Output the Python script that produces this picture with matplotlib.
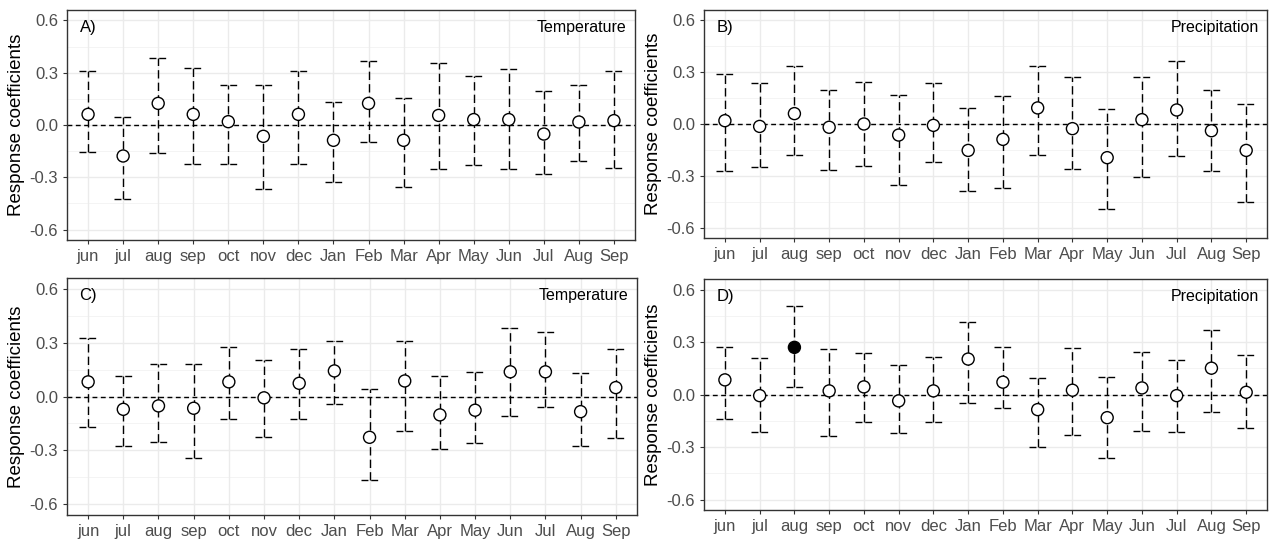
import matplotlib
matplotlib.use("Agg")
import matplotlib.pyplot as plt
import numpy as np

plt.rcParams['font.family'] = ['Liberation Sans', 'DejaVu Sans']

months = ['jun', 'jul', 'aug', 'sep', 'oct', 'nov', 'dec', 'Jan', 'Feb',
          'Mar', 'Apr', 'May', 'Jun', 'Jul', 'Aug', 'Sep']

# A) temperature
a_est = [0.061, -0.178, 0.124, 0.061, 0.019, -0.065, 0.061, -0.088, 0.124,
         -0.088, 0.055, 0.031, 0.031, -0.052, 0.017, 0.025]
a_up = [0.308, 0.044, 0.382, 0.325, 0.231, 0.231, 0.312, 0.130, 0.369,
        0.157, 0.354, 0.281, 0.319, 0.195, 0.231, 0.308]
a_lo = [-0.153, -0.424, -0.159, -0.222, -0.222, -0.367, -0.222, -0.329, -0.096,
        -0.354, -0.252, -0.228, -0.252, -0.283, -0.205, -0.245]

# B) precipitation
b_est = [0.019, -0.014, 0.060, -0.019, 0.0, -0.064, -0.008, -0.153, -0.089,
         0.093, -0.027, -0.195, 0.025, 0.081, -0.039, -0.153]
b_up = [0.290, 0.239, 0.338, 0.199, 0.245, 0.168, 0.239, 0.093, 0.162,
        0.338, 0.270, 0.087, 0.270, 0.363, 0.199, 0.118]
b_lo = [-0.272, -0.251, -0.178, -0.266, -0.245, -0.351, -0.222, -0.390, -0.373,
        -0.178, -0.259, -0.490, -0.309, -0.183, -0.270, -0.452]

# C) temperature
c_est = [0.082, -0.071, -0.052, -0.065, 0.082, -0.007, 0.074, 0.143, -0.227,
         0.087, -0.102, -0.076, 0.138, 0.138, -0.084, 0.050]
c_up = [0.327, 0.112, 0.182, 0.182, 0.275, 0.206, 0.264, 0.312, 0.043,
        0.307, 0.117, 0.139, 0.383, 0.362, 0.134, 0.264]
c_lo = [-0.171, -0.277, -0.253, -0.340, -0.126, -0.227, -0.126, -0.039, -0.467,
        -0.190, -0.290, -0.260, -0.108, -0.058, -0.277, -0.232]

# D) precipitation
d_est = [0.084, -0.006, 0.270, 0.021, 0.044, -0.036, 0.021, 0.203, 0.071,
         -0.086, 0.025, -0.132, 0.038, -0.006, 0.151, 0.013]
d_up = [0.270, 0.208, 0.509, 0.258, 0.239, 0.170, 0.214, 0.417, 0.272,
        0.096, 0.266, 0.101, 0.245, 0.195, 0.371, 0.228]
d_lo = [-0.141, -0.214, 0.044, -0.237, -0.157, -0.220, -0.157, -0.048, -0.075,
        -0.300, -0.231, -0.363, -0.206, -0.214, -0.099, -0.193]
d_signif = [False, False, True] + [False] * 13

panels = [
    ('A)', 'Temperature', a_est, a_up, a_lo, None, [0.0527, 0.5572, 0.4465, 0.4244]),
    ('B)', 'Precipitation', b_est, b_up, b_lo, None, [0.5535, 0.5609, 0.4426, 0.4207]),
    ('C)', 'Temperature', c_est, c_up, c_lo, None, [0.0527, 0.0498, 0.4480, 0.4370]),
    ('D)', 'Precipitation', d_est, d_up, d_lo, d_signif, [0.5535, 0.0590, 0.4426, 0.4260]),
]

fig = plt.figure(figsize=(12.72, 5.42), dpi=100)

for tag, var, est, up, lo, sig, pos in panels:
    ax = fig.add_axes(pos)
    x = np.arange(len(months))
    # grid like theme_bw
    for g in [-0.45, -0.15, 0.15, 0.45]:
        ax.axhline(g, color='#F2F2F2', lw=0.6, zorder=0)
    ax.set_yticks([-0.6, -0.3, 0.0, 0.3, 0.6])
    ax.grid(True, color='#EBEBEB', lw=1.0, zorder=0)
    ax.set_axisbelow(True)

    ax.axhline(0, color='black', lw=1.0, linestyle=(0, (3.5, 2.5)), zorder=1)
    ax.vlines(x, lo, up, colors='black', lw=1.0, linestyles=[(0, (6, 3))], zorder=2)
    ax.hlines(up, x - 0.25, x + 0.25, colors='black', lw=1.0, linestyles=[(0, (5, 2))], zorder=2)
    ax.hlines(lo, x - 0.25, x + 0.25, colors='black', lw=1.0, linestyles=[(0, (5, 2))], zorder=2)

    face = ['black' if (sig and sig[i]) else 'white' for i in range(len(est))]
    ax.scatter(x, est, s=75, facecolors=face, edgecolors='black', linewidths=1.0, zorder=3)

    ax.set_xlim(-0.6, len(months) - 0.4)
    ax.set_ylim(-0.66, 0.66)
    ax.set_xticks(x)
    ax.set_xticklabels(months)
    ax.set_yticklabels(['-0.6', '-0.3', '0.0', '0.3', '0.6'])
    ax.tick_params(labelsize=12, colors='#333333', labelcolor='#4D4D4D', length=3)
    ax.set_ylabel('Response coefficients', fontsize=13.5, labelpad=3)
    for s in ax.spines.values():
        s.set_color('#333333')
        s.set_linewidth(1.0)

    ax.text(0.022, 0.925, tag, transform=ax.transAxes, fontsize=12, va='center', ha='left')
    ax.text(0.985, 0.925, var, transform=ax.transAxes, fontsize=11.5, va='center', ha='right')

fig.savefig('out.png', dpi=100)
